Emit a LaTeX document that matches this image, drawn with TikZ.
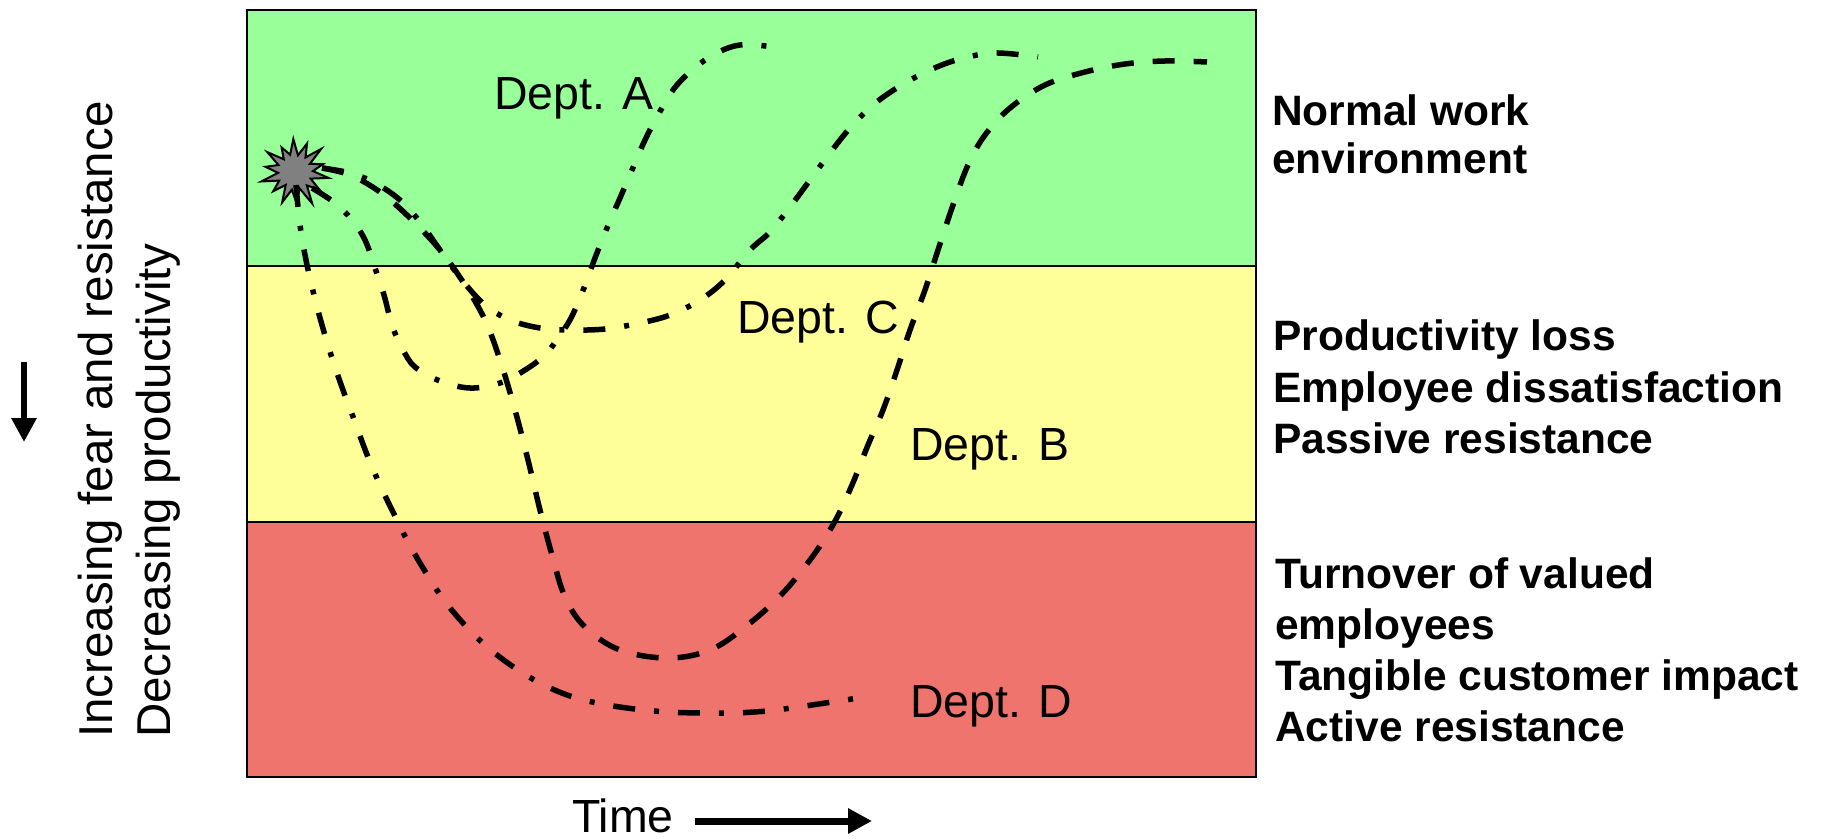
\documentclass[tikz,border=0pt]{standalone}
\usepackage{fontspec}
\setmainfont{Liberation Sans}
\usetikzlibrary{arrows.meta}
\definecolor{normalgreen}{RGB}{153,255,153}
\definecolor{lossyellow}{RGB}{255,255,153}
\definecolor{turnoverred}{RGB}{240,116,110}
\definecolor{burstgray}{RGB}{128,128,128}

\begin{document}
\begin{tikzpicture}[x=1bp,y=-1bp,
  bandline/.style={draw=black, line width=2bp},
  deptline/.style={line width=5.5bp, line cap=butt, line join=round},
  dashline/.style={deptline, dash pattern=on 22bp off 19bp},
  dotline/.style={deptline, dash pattern=on 22bp off 19bp on 5bp off 19bp},
  smoothcurve/.style={smooth, tension=0.6},
  deptlabel/.style={anchor=base west, inner sep=0, font=\fontsize{46.5bp}{56bp}\selectfont},
  effect/.style={anchor=base west, inner sep=0, font=\fontsize{42.5bp}{51bp}\selectfont\bfseries},
  axislabel/.style={anchor=base west, inner sep=0, rotate=90, font=\fontsize{47.5bp}{58bp}\selectfont},
  bigarrow/.style={line width=7bp, -{Triangle[length=24bp,width=24bp]}}
]
\useasboundingbox (0,0) rectangle (1826,839);

% three zones of the chart
\path[fill=normalgreen] (247,10) rectangle (1256,265.5);
\path[fill=lossyellow] (247,265.5) rectangle (1256,521.5);
\path[fill=turnoverred] (247,521.5) rectangle (1256,777);
\draw[bandline] (247,265.5) -- (1256,265.5) (247,521.5) -- (1256,521.5);
\draw[bandline] (247,10) rectangle (1256,777);

% the triggering event
\coordinate (burst) at (295,172);
\draw[shift={(burst)}, fill=burstgray, draw=black, line width=2bp]
  (10:34) -- (22.9:17) -- (35.7:30) -- (48.6:18) -- (61.4:36) -- (74.3:17)
  -- (87.1:31) -- (100:18) -- (112.9:33) -- (125.7:16) -- (138.6:29)
  -- (151.4:18) -- (164.3:35) -- (177.1:17) -- (190:30) -- (202.9:18)
  -- (215.7:34) -- (228.6:17) -- (241.4:28) -- (254.3:18) -- (267.1:33)
  -- (280:17) -- (292.9:31) -- (305.7:18) -- (318.6:35) -- (331.4:17)
  -- (344.3:29) -- (357.1:18) -- cycle;

% Dept. A
\draw[dotline] plot[smoothcurve] coordinates {
  (312,188) (335,203) (352,220) (365,240) (375,268) (384,295) (392,325)
  (402,348) (415,367) (440,381) (470,388) (500,383) (525,370) (545,355)
  (558,338) (571,318) (584,288) (595,258) (607,228) (620,198) (632,170)
  (645,140) (658,115) (673,90) (690,72) (713,55) (740,45) (774,47)};

% Dept. C
\draw[dotline] plot[smoothcurve] coordinates {
  (322,168) (350,173) (375,183) (400,200) (420,222) (440,250) (462,280)
  (485,305) (510,320) (540,328) (570,330) (605,329) (640,323) (670,315)
  (700,300) (725,280) (750,250) (770,232) (790,207) (810,180) (830,153)
  (850,128) (873,105) (900,86) (930,70) (960,59) (995,53) (1038,57)};

% Dept. B
\draw[dashline] plot[smoothcurve] coordinates {
  (322,168) (350,175) (380,192) (410,218) (440,250) (465,285) (485,320)
  (500,360) (515,410) (528,460) (540,510) (552,555) (565,597) (585,627)
  (620,650) (668,658) (710,650) (745,627) (780,596) (810,560) (834,523)
  (852,485) (868,445) (883,410) (897,370) (910,330) (925,290) (938,250)
  (953,205) (968,165) (985,135) (1010,108) (1045,85) (1085,72) (1125,64)
  (1165,61) (1207,62)};

% Dept. D
\draw[dotline] plot[smoothcurve] coordinates {
  (296,185) (300,225) (306,260) (314,295) (322,325) (332,358) (343,390)
  (355,422) (366,452) (380,485) (393,512) (407,540) (423,568) (441,596)
  (462,622) (485,645) (512,666) (540,683) (570,696) (602,704) (635,709)
  (668,712) (701,713) (733,713) (767,711) (798,707) (832,702) (865,697)};

% curve labels
\node[deptlabel] (deptA) at (494,109) {Dept. A};
\node[deptlabel] (deptC) at (737,333) {Dept. C};
\node[deptlabel] (deptB) at (910,460) {Dept. B};
\node[deptlabel] (deptD) at (910,717) {Dept. D};

% zone descriptions
\node[effect] (normal1) at (1272,125) {Normal work};
\node[effect] (normal2) at (1272,173) {environment};
\node[effect] (loss1) at (1273,350) {Productivity loss};
\node[effect] (loss2) at (1273,402) {Employee dissatisfaction};
\node[effect] (loss3) at (1273,453) {Passive resistance};
\node[effect] (turn1) at (1275,588) {Turnover of valued};
\node[effect] (turn2) at (1275,639) {employees};
\node[effect] (turn3) at (1275,690) {Tangible customer impact};
\node[effect] (turn4) at (1275,741) {Active resistance};

% axes
\node[axislabel] (fear) at (112,738) {Increasing fear and resistance};
\node[axislabel] (prod) at (170,738) {Decreasing productivity};
\coordinate (downtop) at (24,362);
\coordinate (downtip) at (24,442);
\draw[bigarrow, line width=6bp] (downtop) -- (downtip);

\node[deptlabel] (time) at (572,832) {Time};
\coordinate (timetip) at (872,821);
\draw[bigarrow] (time.east |- timetip) ++(21,0) coordinate (timestart) -- (timetip);
\end{tikzpicture}
\end{document}
